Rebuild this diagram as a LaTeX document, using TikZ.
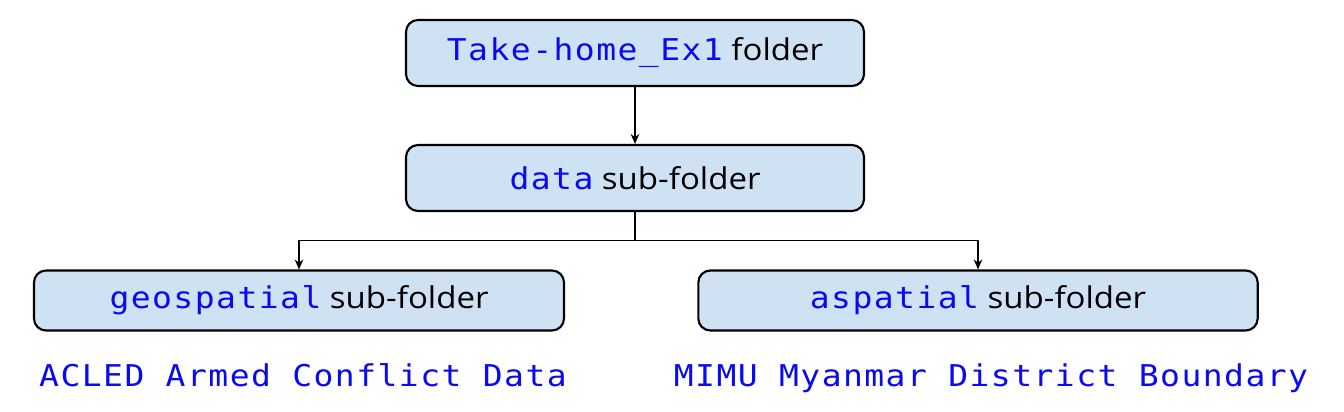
\documentclass[tikz,border=0pt]{standalone}
\usepackage{fontspec}
\setmainfont[FakeStretch=1.1]{Open Sans}
\newfontfamily\codefont[FakeStretch=1.1,LetterSpace=4.9]{DejaVu Sans Mono}
\usetikzlibrary{arrows.meta,positioning}

\definecolor{boxfill}{HTML}{CFE2F3}
\definecolor{codeblue}{HTML}{0A0AF0}
\newcommand{\code}[1]{{\codefont\color{codeblue}#1}}

\tikzset{
  folder/.style={draw,line width=1.6pt,rounded corners=9pt,fill=boxfill,
    inner sep=0pt,font=\fontsize{22.5}{26}\selectfont},
  source/.style={anchor=base,inner sep=0pt,font=\fontsize{22.5}{26}\selectfont},
  link/.style={line width=1pt,-{Stealth[length=7.5pt,width=6.5pt]}}
}

\begin{document}
\begin{tikzpicture}[x=0.75pt,y=-0.75pt]

\useasboundingbox (0,0) rectangle (1344,411);

\node[folder,minimum width=343.5pt,minimum height=49.5pt] (home) at (635,53) {\code{Take-home\_Ex1} folder};
\node[folder,minimum width=343.5pt,minimum height=49.5pt] (data) at (635,178) {\code{data} sub-folder};
\node[folder,minimum width=397.5pt,minimum height=45pt] (geo) at (299,300.5) {\code{geospatial} sub-folder};
\node[folder,minimum width=419.5pt,minimum height=45pt] (asp) at (978,300.5) {\code{aspatial} sub-folder};

\node[source] (acled) at (303,386) {\code{ACLED Armed Conflict Data}};
\node[source] (mimu) at (991,386) {\code{MIMU Myanmar District Boundary}};

\coordinate (split) at (635,240.7);

\draw[link] (home) -- (data);
\draw[line width=1pt] (data.south) -- (split);
\draw[link] (split) -| (geo.north);
\draw[link] (split) -| (asp.north);

\end{tikzpicture}
\end{document}
